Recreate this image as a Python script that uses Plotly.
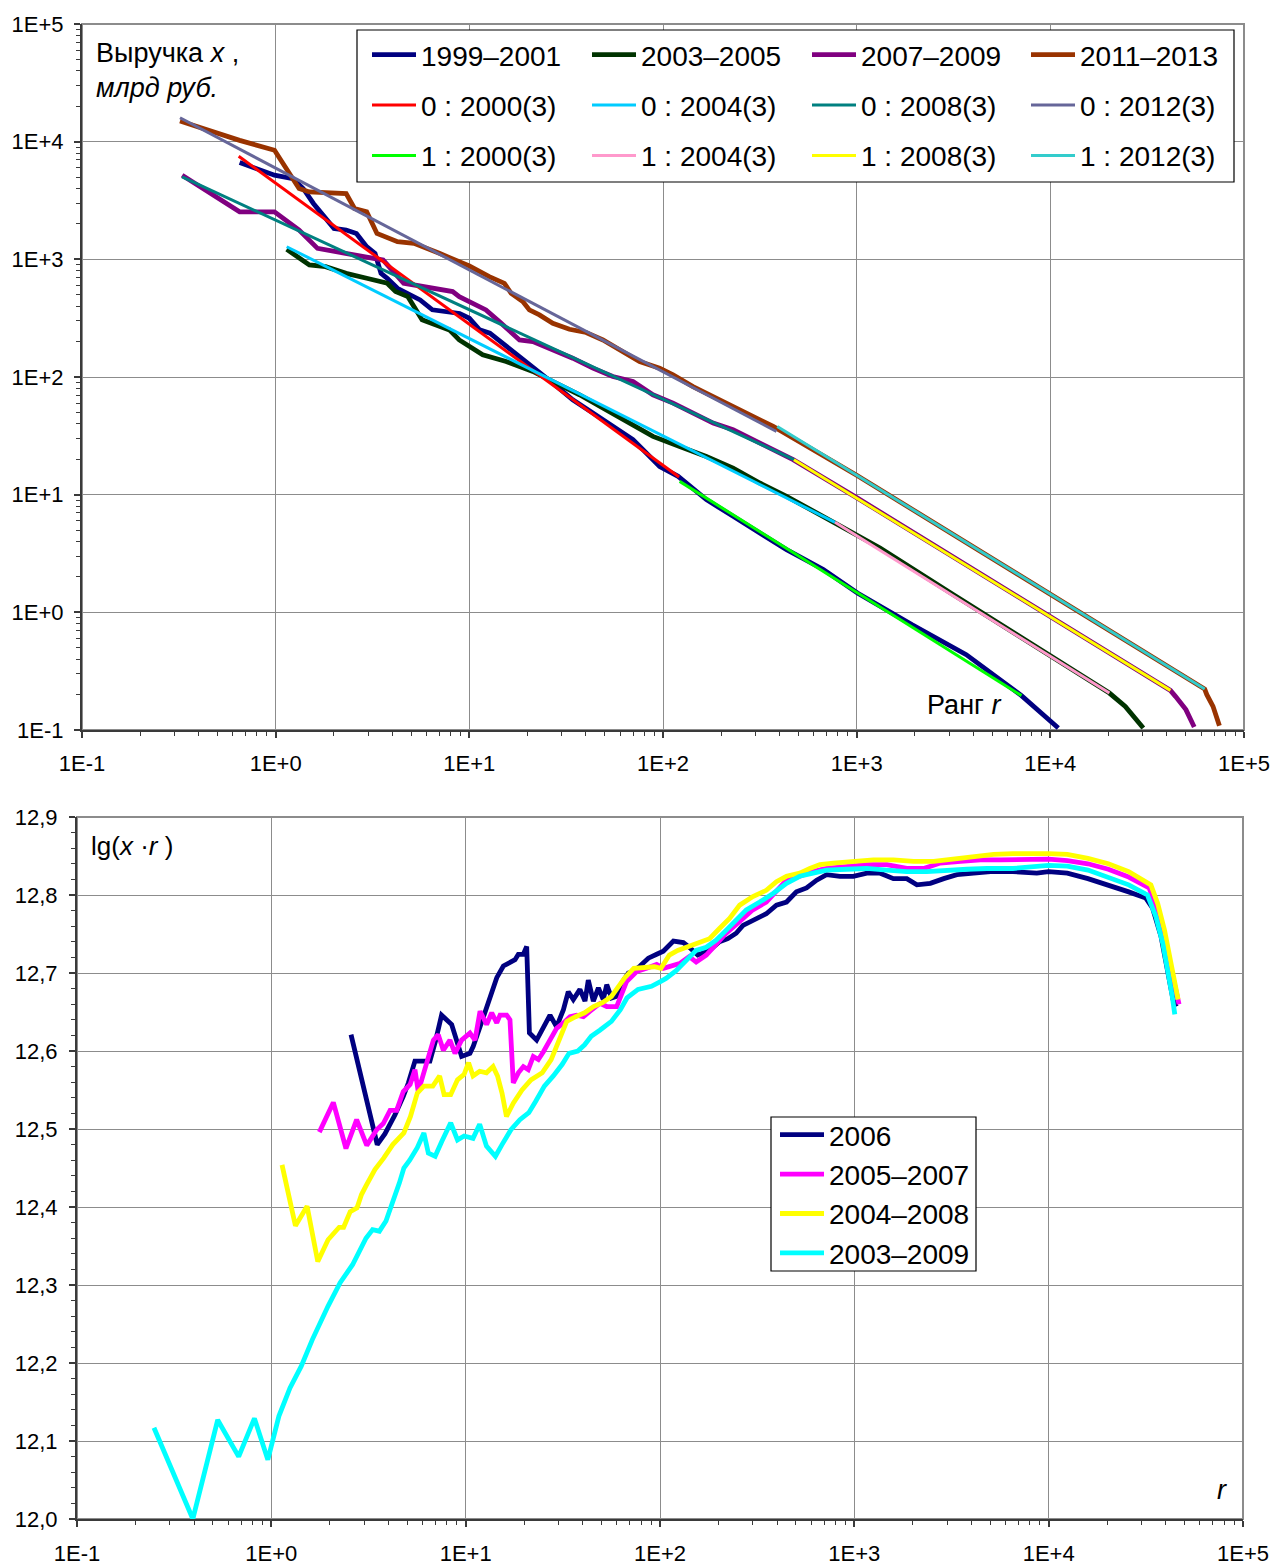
import numpy as np
import plotly.graph_objects as go

W, H = 1276, 1567
FONT = "Liberation Sans, Arial, sans-serif"

# ---------------- TOP CHART DATA (read as log10 values off the log-log axes) ----------------
# rank r (log10) and revenue x, bln RUB (log10)
LGR_1999 = [-0.186, -0.102, -0.006, 0.089, 0.142, 0.195, 0.248, 0.301, 0.364, 0.417, 0.470, 0.513,
            0.544, 0.576, 0.629, 0.682, 0.746, 0.809, 0.883, 0.950, 1.000, 1.053, 1.106, 1.169,
            1.233, 1.300, 1.345, 1.431, 1.534, 1.638, 1.741, 1.845, 1.897, 1.983, 2.078, 2.224,
            2.362, 2.500, 2.638, 2.828, 3.004, 3.285, 3.566, 3.851, 3.933, 4.041]
LGX_1999 = [3.822, 3.771, 3.715, 3.686, 3.602, 3.475, 3.362, 3.263, 3.249, 3.220, 3.107, 3.051,
            2.881, 2.839, 2.754, 2.712, 2.655, 2.571, 2.556, 2.540, 2.499, 2.401, 2.373, 2.288,
            2.203, 2.120, 2.061, 1.948, 1.806, 1.693, 1.580, 1.467, 1.382, 1.240, 1.156, 0.958,
            0.816, 0.675, 0.533, 0.364, 0.164, -0.105, -0.360, -0.708, -0.827, -0.983]

LGR_2003 = [0.057, 0.174, 0.258, 0.364, 0.470, 0.576, 0.619, 0.682, 0.756, 0.852, 0.897, 0.948,
            1.000, 1.069, 1.190, 1.328, 1.414, 1.569, 1.707, 1.810, 1.948, 2.086, 2.224, 2.362,
            2.500, 2.638, 2.776, 2.914, 3.121, 3.500, 3.900, 4.305, 4.387, 4.480]
LGX_2003 = [3.085, 2.952, 2.938, 2.881, 2.839, 2.797, 2.726, 2.684, 2.486, 2.429, 2.400, 2.315,
            2.259, 2.188, 2.132, 2.047, 1.976, 1.849, 1.721, 1.622, 1.495, 1.410, 1.325, 1.226,
            1.099, 0.986, 0.859, 0.731, 0.547, 0.150, -0.260, -0.686, -0.799, -0.983]

LGR_2007 = [-0.483, -0.186, -0.006, 0.121, 0.216, 0.322, 0.449, 0.555, 0.661, 0.809, 0.845, 0.914,
            0.948, 1.000, 1.086, 1.155, 1.216, 1.259, 1.328, 1.414, 1.534, 1.638, 1.741, 1.845,
            1.948, 2.052, 2.155, 2.259, 2.362, 2.466, 2.569, 2.672, 3.000, 3.500, 4.000, 4.400,
            4.620, 4.646, 4.700, 4.743]
LGX_2007 = [3.715, 3.404, 3.404, 3.249, 3.093, 3.065, 3.023, 2.994, 2.797, 2.754, 2.740, 2.726,
            2.683, 2.641, 2.570, 2.471, 2.372, 2.315, 2.301, 2.245, 2.160, 2.075, 2.004, 1.962,
            1.849, 1.778, 1.693, 1.608, 1.552, 1.467, 1.382, 1.297, 0.975, 0.470, -0.030, -0.440,
            -0.663, -0.714, -0.827, -0.975]

LGR_2011 = [-0.494, -0.186, -0.006, 0.121, 0.174, 0.364, 0.407, 0.470, 0.523, 0.629, 0.714, 0.809,
            0.845, 1.000, 1.052, 1.103, 1.181, 1.216, 1.276, 1.310, 1.362, 1.431, 1.517, 1.603,
            1.690, 1.776, 1.879, 1.983, 2.052, 2.155, 2.259, 2.362, 2.466, 2.569, 3.000, 3.500,
            4.000, 4.500, 4.797, 4.808, 4.840, 4.873]
LGX_2011 = [4.175, 4.011, 3.927, 3.602, 3.573, 3.559, 3.432, 3.404, 3.220, 3.150, 3.136, 3.079,
            3.051, 2.943, 2.895, 2.853, 2.796, 2.711, 2.641, 2.570, 2.528, 2.457, 2.406, 2.378,
            2.315, 2.231, 2.132, 2.075, 2.018, 1.919, 1.835, 1.750, 1.665, 1.580, 1.165, 0.660,
            0.155, -0.350, -0.652, -0.700, -0.799, -0.963]

# power-law fits: end points (log10 r, log10 x)
FIT0_2000 = ([-0.191, 2.083], [3.876, 1.150])
FIT0_2004 = ([0.057, 2.888], [3.107, 0.765])
FIT0_2008 = ([-0.483, 2.676], [3.700, 1.297])
FIT0_2012 = ([-0.494, 2.586], [4.203, 1.537])
FIT1_2000 = ([2.086, 3.851], [1.113, -0.708])
FIT1_2004 = ([2.888, 4.305], [0.765, -0.686])
FIT1_2008 = ([2.676, 4.620], [1.297, -0.663])
FIT1_2012 = ([2.590, 4.797], [1.580, -0.652])

# ---------------- BOTTOM CHART DATA: log10 r and lg(x*r) ----------------
LGR_2006 = [0.410, 0.545, 0.585, 0.636, 0.679, 0.705, 0.739, 0.791, 0.816, 0.846, 0.876, 0.928,
            0.962, 0.979, 1.022, 1.039, 1.074, 1.125, 1.160, 1.194, 1.228, 1.254, 1.271, 1.297,
            1.314, 1.328, 1.365, 1.400, 1.434, 1.468, 1.503, 1.528, 1.554, 1.588, 1.614, 1.631,
            1.657, 1.683, 1.708, 1.726, 1.751, 1.777, 1.803, 1.837, 1.863, 1.897, 1.940, 1.983,
            2.017, 2.069, 2.120, 2.151, 2.194, 2.255, 2.306, 2.349, 2.392, 2.427, 2.487, 2.547,
            2.599, 2.651, 2.702, 2.754, 2.806, 2.857, 2.926, 2.995, 3.064, 3.133, 3.201, 3.270,
            3.322, 3.391, 3.460, 3.528, 3.614, 3.701, 3.816, 3.939, 4.000, 4.096, 4.202, 4.307,
            4.412, 4.500, 4.535, 4.578, 4.613, 4.640, 4.657]
LXR_2006 = [12.621, 12.480, 12.494, 12.518, 12.542, 12.559, 12.587, 12.587, 12.587, 12.614, 12.646, 12.634,
            12.606, 12.593, 12.597, 12.606, 12.631, 12.670, 12.694, 12.709, 12.714, 12.717, 12.724, 12.724,
            12.734, 12.623, 12.614, 12.629, 12.646, 12.631, 12.653, 12.676, 12.666, 12.679, 12.664, 12.691,
            12.664, 12.681, 12.666, 12.685, 12.668, 12.670, 12.687, 12.700, 12.702, 12.709, 12.719, 12.724,
            12.728, 12.741, 12.739, 12.733, 12.723, 12.729, 12.740, 12.744, 12.751, 12.761, 12.768, 12.776,
            12.787, 12.791, 12.804, 12.809, 12.819, 12.826, 12.824, 12.824, 12.828, 12.828, 12.821, 12.821,
            12.813, 12.815, 12.821, 12.826, 12.828, 12.830, 12.830, 12.828, 12.830, 12.828, 12.821, 12.813,
            12.804, 12.796, 12.783, 12.747, 12.704, 12.666, 12.657]

LGR_2005 = [0.247, 0.319, 0.384, 0.439, 0.491, 0.542, 0.576, 0.611, 0.645, 0.679, 0.714, 0.739,
            0.756, 0.799, 0.834, 0.859, 0.885, 0.919, 0.945, 0.979, 1.022, 1.048, 1.074, 1.108,
            1.134, 1.160, 1.177, 1.211, 1.228, 1.245, 1.271, 1.297, 1.322, 1.348, 1.374, 1.400,
            1.434, 1.468, 1.503, 1.537, 1.571, 1.606, 1.640, 1.691, 1.726, 1.777, 1.828, 1.880,
            1.931, 1.983, 2.017, 2.069, 2.100, 2.151, 2.186, 2.238, 2.289, 2.341, 2.410, 2.478,
            2.547, 2.599, 2.651, 2.719, 2.788, 2.857, 2.960, 3.064, 3.167, 3.270, 3.356, 3.442,
            3.546, 3.649, 3.752, 3.855, 4.000, 4.096, 4.202, 4.307, 4.412, 4.517, 4.552, 4.596,
            4.631, 4.657, 4.671]
LXR_2005 = [12.496, 12.534, 12.475, 12.512, 12.479, 12.499, 12.507, 12.524, 12.524, 12.548, 12.557, 12.576,
            12.548, 12.587, 12.614, 12.621, 12.601, 12.614, 12.597, 12.614, 12.623, 12.614, 12.651, 12.634,
            12.649, 12.636, 12.646, 12.646, 12.640, 12.559, 12.572, 12.580, 12.576, 12.593, 12.589, 12.599,
            12.614, 12.629, 12.636, 12.644, 12.646, 12.644, 12.651, 12.661, 12.657, 12.657, 12.689, 12.702,
            12.706, 12.711, 12.706, 12.709, 12.712, 12.721, 12.714, 12.723, 12.738, 12.751, 12.766, 12.781,
            12.791, 12.806, 12.819, 12.824, 12.830, 12.834, 12.836, 12.839, 12.839, 12.834, 12.834, 12.841,
            12.843, 12.845, 12.845, 12.845, 12.846, 12.844, 12.840, 12.833, 12.823, 12.809, 12.785, 12.743,
            12.704, 12.679, 12.660]

LGR_2004 = [0.055, 0.124, 0.184, 0.239, 0.292, 0.349, 0.372, 0.406, 0.441, 0.464, 0.487, 0.533,
            0.579, 0.625, 0.682, 0.716, 0.751, 0.785, 0.831, 0.866, 0.889, 0.923, 0.958, 0.992,
            1.015, 1.038, 1.072, 1.107, 1.141, 1.164, 1.187, 1.210, 1.245, 1.290, 1.336, 1.394,
            1.440, 1.486, 1.520, 1.566, 1.612, 1.658, 1.704, 1.750, 1.784, 1.819, 1.865, 1.928,
            1.971, 2.005, 2.048, 2.091, 2.134, 2.194, 2.255, 2.306, 2.358, 2.410, 2.478, 2.547,
            2.599, 2.651, 2.719, 2.771, 2.823, 2.892, 2.995, 3.098, 3.201, 3.305, 3.408, 3.509,
            3.614, 3.717, 3.816, 3.947, 4.000, 4.096, 4.202, 4.307, 4.412, 4.526, 4.561, 4.596,
            4.631, 4.657, 4.666]
LXR_2004 = [12.454, 12.376, 12.401, 12.330, 12.358, 12.374, 12.374, 12.394, 12.399, 12.416, 12.427, 12.448,
            12.463, 12.480, 12.495, 12.516, 12.546, 12.555, 12.555, 12.568, 12.544, 12.544, 12.563, 12.570,
            12.585, 12.568, 12.574, 12.572, 12.580, 12.568, 12.546, 12.516, 12.533, 12.550, 12.563, 12.572,
            12.589, 12.615, 12.638, 12.644, 12.649, 12.657, 12.662, 12.670, 12.683, 12.694, 12.706, 12.708,
            12.708, 12.706, 12.723, 12.729, 12.733, 12.738, 12.744, 12.757, 12.770, 12.787, 12.798, 12.806,
            12.817, 12.824, 12.828, 12.834, 12.839, 12.841, 12.843, 12.845, 12.845, 12.843, 12.843, 12.846,
            12.848, 12.852, 12.853, 12.854, 12.853, 12.852, 12.847, 12.840, 12.830, 12.813, 12.789, 12.755,
            12.713, 12.683, 12.666]

LGR_2003B = [-0.604, -0.404, -0.276, -0.168, -0.087, -0.018, 0.039, 0.096, 0.154, 0.211, 0.292, 0.354,
             0.418, 0.452, 0.487, 0.521, 0.556, 0.590, 0.625, 0.659, 0.682, 0.712, 0.751, 0.785,
             0.808, 0.843, 0.877, 0.923, 0.958, 0.992, 1.038, 1.072, 1.107, 1.153, 1.187, 1.233,
             1.279, 1.325, 1.359, 1.405, 1.451, 1.497, 1.532, 1.577, 1.612, 1.646, 1.692, 1.750,
             1.796, 1.830, 1.887, 1.956, 2.002, 2.031, 2.083, 2.134, 2.186, 2.238, 2.289, 2.341,
             2.392, 2.444, 2.513, 2.582, 2.651, 2.719, 2.788, 2.857, 2.960, 3.064, 3.167, 3.270,
             3.373, 3.477, 3.580, 3.683, 3.816, 4.000, 4.096, 4.202, 4.307, 4.412, 4.508, 4.552,
             4.587, 4.613, 4.636, 4.649]
LXR_2003B = [12.117, 12.000, 12.127, 12.080, 12.129, 12.076, 12.132, 12.168, 12.196, 12.230, 12.273, 12.303,
             12.326, 12.343, 12.360, 12.371, 12.369, 12.382, 12.405, 12.431, 12.450, 12.460, 12.476, 12.495,
             12.469, 12.465, 12.484, 12.508, 12.486, 12.491, 12.488, 12.506, 12.478, 12.465, 12.480, 12.499,
             12.512, 12.521, 12.535, 12.555, 12.568, 12.583, 12.597, 12.600, 12.608, 12.619, 12.627, 12.638,
             12.653, 12.668, 12.679, 12.683, 12.689, 12.693, 12.703, 12.716, 12.729, 12.733, 12.742, 12.755,
             12.768, 12.781, 12.791, 12.802, 12.815, 12.824, 12.828, 12.832, 12.833, 12.834, 12.832, 12.830,
             12.830, 12.832, 12.833, 12.834, 12.834, 12.838, 12.837, 12.832, 12.823, 12.813, 12.800, 12.772,
             12.738, 12.704, 12.670, 12.647]

# tick labels
LOG_TICK_TEXT = ["1E-1", "1E+0", "1E+1", "1E+2", "1E+3", "1E+4", "1E+5"]
LIN_TICK_VALS = [12.0, 12.1, 12.2, 12.3, 12.4, 12.5, 12.6, 12.7, 12.8, 12.9]
LIN_TICK_TEXT = ["12,0", "12,1", "12,2", "12,3", "12,4", "12,5", "12,6", "12,7", "12,8", "12,9"]

# ---------------- FIGURE ----------------
fig = go.Figure()


def p(v):
    return 10 ** np.array(v, dtype=float)


def add_top(lr, lx, name, color, width, legend):
    fig.add_trace(go.Scatter(x=p(lr), y=p(lx), mode="lines", name=name,
                             line=dict(color=color, width=width),
                             xaxis="x", yaxis="y", legend=legend, legendgroup=name,
                             hoverinfo="skip"))


add_top(LGR_1999, LGX_1999, "1999–2001", "#000080", 4.8, "legend")
add_top(LGR_2003, LGX_2003, "2003–2005", "#003300", 4.8, "legend2")
add_top(LGR_2007, LGX_2007, "2007–2009", "#800080", 4.8, "legend3")
add_top(LGR_2011, LGX_2011, "2011–2013", "#993300", 4.8, "legend4")
add_top(*FIT0_2000, "0 : 2000(3)", "#FF0000", 3, "legend")
add_top(*FIT0_2004, "0 : 2004(3)", "#00CCFF", 3, "legend2")
add_top(*FIT0_2008, "0 : 2008(3)", "#008080", 3, "legend3")
add_top(*FIT0_2012, "0 : 2012(3)", "#666699", 3, "legend4")
add_top(*FIT1_2000, "1 : 2000(3)", "#00FF00", 3, "legend")
add_top(*FIT1_2004, "1 : 2004(3)", "#FF99CC", 3, "legend2")
add_top(*FIT1_2008, "1 : 2008(3)", "#FFFF00", 3, "legend3")
add_top(*FIT1_2012, "1 : 2012(3)", "#33CCCC", 3, "legend4")


def add_bot(lr, v, name, color):
    fig.add_trace(go.Scatter(x=p(lr), y=v, mode="lines", name=name,
                             line=dict(color=color, width=4.8),
                             xaxis="x2", yaxis="y2", legend="legend5", legendgroup=name,
                             hoverinfo="skip"))


add_bot(LGR_2006, LXR_2006, "2006", "#000080")
add_bot(LGR_2005, LXR_2005, "2005–2007", "#FF00FF")
add_bot(LGR_2004, LXR_2004, "2004–2008", "#FFFF00")
add_bot(LGR_2003B, LXR_2003B, "2003–2009", "#00FFFF")

AX = "#3a3a3a"
GRID = "#8c8c8c"
log_major = [10.0 ** e for e in range(-1, 6)]
log_minor = [k * 10.0 ** e for e in range(-1, 5) for k in range(2, 10)]

common_log_x = dict(type="log", range=[-1, 5], tickmode="array", tickvals=log_major,
                    ticktext=LOG_TICK_TEXT, showgrid=True, gridcolor=GRID, gridwidth=1,
                    showline=True, linecolor=AX, linewidth=2, ticks="outside", ticklen=6,
                    tickcolor=AX, tickwidth=1.5, tickfont=dict(size=22, family=FONT, color="black"),
                    minor=dict(tickmode="array", tickvals=log_minor, ticks="outside", ticklen=4,
                               tickcolor=AX, tickwidth=1, showgrid=False),
                    ticklabelstandoff=7, fixedrange=True, automargin=False)

xaxis = dict(common_log_x, domain=[82 / W, 1244 / W], anchor="y")
xaxis2 = dict(common_log_x, domain=[77 / W, 1243 / W], anchor="y2", ticklabelstandoff=8)
yaxis = dict(common_log_x, domain=[1 - 730 / H, 1 - 24 / H], anchor="x", ticklabelstandoff=6)
yaxis2 = dict(range=[12.0, 12.9], domain=[1 - 1519 / H, 1 - 817 / H], anchor="x2",
              tickmode="array", tickvals=LIN_TICK_VALS, ticktext=LIN_TICK_TEXT,
              showgrid=True, gridcolor=GRID, gridwidth=1, zeroline=False,
              showline=True, linecolor=AX, linewidth=2, ticks="outside", ticklen=6,
              tickcolor=AX, tickwidth=1.5, tickfont=dict(size=22, family=FONT, color="black"),
              minor=dict(dtick=0.02, ticks="outside", ticklen=4, tickcolor=AX, tickwidth=1,
                         showgrid=False),
              ticklabelstandoff=7, fixedrange=True, automargin=False)

leg_common = dict(xanchor="left", yanchor="top", bgcolor="rgba(0,0,0,0)", borderwidth=0,
                  font=dict(size=28, family=FONT, color="black"), itemwidth=44,
                  tracegroupgap=11, orientation="v")
col_px = [367, 587, 807, 1026]
legends = {}
for i, cx in enumerate(col_px):
    key = "legend" if i == 0 else f"legend{i + 1}"
    legends[key] = dict(leg_common, x=cx / W, y=1 - 30 / H)
legends["legend5"] = dict(xanchor="left", yanchor="top", x=775 / W, y=1 - 1110 / H,
                          bgcolor="rgba(0,0,0,0)", borderwidth=0,
                          font=dict(size=28, family=FONT, color="black"), itemwidth=44,
                          tracegroupgap=0, orientation="v")

shapes = [
    # top legend frame
    dict(type="rect", xref="paper", yref="paper", x0=357 / W, x1=1234 / W,
         y0=1 - 182 / H, y1=1 - 30 / H, line=dict(color="black", width=1.2),
         fillcolor="white", layer="above"),
    # bottom legend frame
    dict(type="rect", xref="paper", yref="paper", x0=771 / W, x1=976 / W,
         y0=1 - 1271 / H, y1=1 - 1117 / H, line=dict(color="black", width=1.2),
         fillcolor="white", layer="above"),
    # plot frames (top/right edges)
    dict(type="rect", xref="paper", yref="paper", x0=82 / W, x1=1244 / W,
         y0=1 - 730 / H, y1=1 - 24 / H, line=dict(color=GRID, width=2), layer="between"),
    dict(type="rect", xref="paper", yref="paper", x0=77 / W, x1=1243 / W,
         y0=1 - 1519 / H, y1=1 - 817 / H, line=dict(color=GRID, width=2), layer="between"),
]

annotations = [
    dict(text="Выручка <i>x</i> ,<br><i>млрд руб.</i>", xref="paper", yref="paper",
         x=94 / W, y=1 - 36 / H, xanchor="left", yanchor="top", showarrow=False, align="left",
         font=dict(size=27, family=FONT, color="black")),
    dict(text="Ранг <i>r</i>", xref="paper", yref="paper", x=964 / W, y=1 - 705 / H,
         xanchor="center", yanchor="middle", showarrow=False,
         font=dict(size=27, family=FONT, color="black")),
    dict(text="lg(<i>x</i> ·<i>r</i> )", xref="paper", yref="paper", x=89 / W, y=1 - 846 / H,
         xanchor="left", yanchor="middle", showarrow=False,
         font=dict(size=26, family=FONT, color="black")),
    dict(text="<i>r</i>", xref="paper", yref="paper", x=1222 / W, y=1 - 1490 / H,
         xanchor="center", yanchor="middle", showarrow=False,
         font=dict(size=27, family=FONT, color="black")),
]

fig.update_layout(width=W, height=H, margin=dict(l=0, r=0, t=0, b=0, pad=0, autoexpand=False),
                  paper_bgcolor="white", plot_bgcolor="white",
                  font=dict(family=FONT, size=22, color="black"),
                  xaxis=xaxis, yaxis=yaxis, xaxis2=xaxis2, yaxis2=yaxis2,
                  showlegend=True, shapes=shapes, annotations=annotations, **legends)

# remove the default 8px page margin so the figure sits exactly in the 1276x1567 window
fig.write_html("out.html", config={"displayModeBar": False},
               post_script="document.body.style.margin='0';document.body.style.overflow='hidden';")
